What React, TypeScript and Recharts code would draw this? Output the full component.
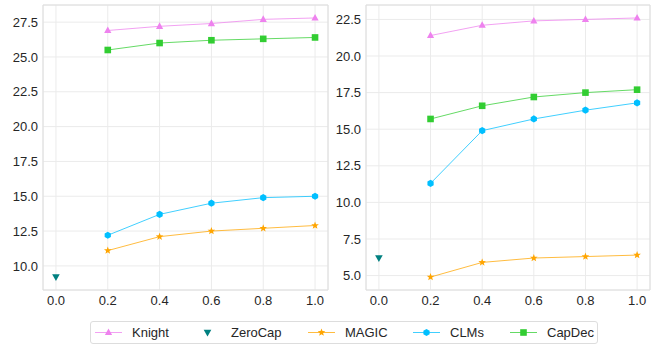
import React from 'react';
import { LineChart, Line, XAxis, YAxis, CartesianGrid, ReferenceArea } from 'recharts';

const ratios = [0.2, 0.4, 0.6, 0.8, 1.0];
const xTicks = [0, 0.2, 0.4, 0.6, 0.8, 1.0];

// left panel
const knightL = [26.9, 27.2, 27.4, 27.7, 27.8];
const capdecL = [25.5, 26.0, 26.2, 26.3, 26.4];
const clmsL = [12.2, 13.7, 14.5, 14.9, 15.0];
const magicL = [11.1, 12.1, 12.5, 12.7, 12.9];
const zerocapL = 9.2;
const yTicksL = [10.0, 12.5, 15.0, 17.5, 20.0, 22.5, 25.0, 27.5];

// right panel
const knightR = [21.4, 22.1, 22.4, 22.5, 22.6];
const capdecR = [15.7, 16.6, 17.2, 17.5, 17.7];
const clmsR = [11.3, 14.9, 15.7, 16.3, 16.8];
const magicR = [4.9, 5.9, 6.2, 6.3, 6.4];
const zerocapR = 6.2;
const yTicksR = [5.0, 7.5, 10.0, 12.5, 15.0, 17.5, 20.0, 22.5];

const COLORS = {
    Knight: '#ee82ee',
    ZeroCap: '#008080',
    MAGIC: '#ffa500',
    CLMs: '#00bfff',
    CapDec: '#32cd32',
};

const FONT = '"Liberation Sans", Arial, sans-serif';

const toRows = (vals: number[]) => ratios.map((r, i) => ({ x: r, y: vals[i] }));

// markers
const Marker = ({ kind, cx, cy, color }: { kind: string; cx: number; cy: number; color: string }) => {
    if (cx == null || cy == null) return null;
    switch (kind) {
        case 'tri-up':
            return <polygon points={`${cx},${cy - 4} ${cx - 3.6},${cy + 2.6} ${cx + 3.6},${cy + 2.6}`} fill={color} />;
        case 'tri-down':
            return <polygon points={`${cx},${cy + 4} ${cx - 3.8},${cy - 2.8} ${cx + 3.8},${cy - 2.8}`} fill={color} />;
        case 'star': {
            const pts: string[] = [];
            for (let i = 0; i < 10; i++) {
                const r = i % 2 === 0 ? 4 : 1.7;
                const a = (Math.PI / 5) * i - Math.PI / 2;
                pts.push(`${cx + r * Math.cos(a)},${cy + r * Math.sin(a)}`);
            }
            return <polygon points={pts.join(' ')} fill={color} />;
        }
        case 'hex': {
            const pts: string[] = [];
            for (let i = 0; i < 6; i++) {
                const a = (Math.PI / 3) * i - Math.PI / 2;
                pts.push(`${cx + 3.6 * Math.cos(a)},${cy + 3.6 * Math.sin(a)}`);
            }
            return <polygon points={pts.join(' ')} fill={color} />;
        }
        default:
            return <rect x={cx - 3.3} y={cy - 3.3} width={6.6} height={6.6} fill={color} />;
    }
};

const dotFor = (kind: string, color: string) => (props: any) => (
    <Marker key={`${kind}-${props.index}`} kind={kind} cx={props.cx} cy={props.cy} color={color} />
);

const tickStyle = { fill: '#262626', fontSize: 13, fontFamily: FONT };

interface PanelProps {
    knight: number[];
    capdec: number[];
    clms: number[];
    magic: number[];
    zerocap: number;
    yTicks: number[];
    yDomain: [number, number];
    yWidth: number;
    rightMargin: number;
}

const Panel: React.FC<PanelProps> = ({ knight, capdec, clms, magic, zerocap, yTicks, yDomain, yWidth, rightMargin }) => {
    const series = [
        { name: 'Knight', data: toRows(knight), kind: 'tri-up' },
        { name: 'MAGIC', data: toRows(magic), kind: 'star' },
        { name: 'CLMs', data: toRows(clms), kind: 'hex' },
        { name: 'CapDec', data: toRows(capdec), kind: 'square' },
    ];
    return (
        <LineChart width={330} height={310} margin={{ top: 5, right: rightMargin, left: 0, bottom: 0 }}>
            <CartesianGrid stroke="#ebebeb" strokeWidth={1} />
            <ReferenceArea x1={-0.05} x2={1.05} y1={yDomain[0]} y2={yDomain[1]} fill="none" stroke="#dedede" strokeWidth={1} />
            <XAxis
                type="number"
                dataKey="x"
                domain={[-0.05, 1.05]}
                ticks={xTicks}
                tickFormatter={(v: number) => v.toFixed(1)}
                axisLine={false}
                tickLine={false}
                tickSize={4}
                tickMargin={2}
                tick={tickStyle}
                height={20}
                allowDuplicatedCategory={false}
            />
            <YAxis
                type="number"
                domain={yDomain}
                ticks={yTicks}
                tickFormatter={(v: number) => v.toFixed(1)}
                axisLine={false}
                tickLine={false}
                tickSize={3}
                tickMargin={2}
                tick={tickStyle}
                width={yWidth}
                allowDataOverflow
            />
            {series.map(s => (
                <Line
                    key={s.name}
                    data={s.data}
                    dataKey="y"
                    stroke={COLORS[s.name as keyof typeof COLORS]}
                    strokeOpacity={0.75}
                    strokeWidth={1}
                    dot={dotFor(s.kind, COLORS[s.name as keyof typeof COLORS])}
                    activeDot={false}
                    isAnimationActive={false}
                />
            ))}
            <Line
                data={[{ x: 0, y: zerocap }]}
                dataKey="y"
                stroke="none"
                dot={dotFor('tri-down', COLORS.ZeroCap)}
                activeDot={false}
                isAnimationActive={false}
            />
        </LineChart>
    );
};

const legendItems = [
    { name: 'Knight', kind: 'tri-up', line: true, start: 4 },
    { name: 'ZeroCap', kind: 'tri-down', line: false, start: 103 },
    { name: 'MAGIC', kind: 'star', line: true, start: 217 },
    { name: 'CLMs', kind: 'hex', line: true, start: 322 },
    { name: 'CapDec', kind: 'square', line: true, start: 419 },
];

const App: React.FC = () => {
    return (
        <div style={{ position: 'absolute', left: 0, top: 0, width: 657, height: 346, background: '#fff', fontFamily: FONT }}>
            <div style={{ position: 'absolute', left: 0, top: 0 }}>
                <Panel knight={knightL} capdec={capdecL} clms={clmsL} magic={magicL} zerocap={zerocapL}
                    yTicks={yTicksL} yDomain={[8.27, 28.73]} yWidth={43} rightMargin={2} />
            </div>
            <div style={{ position: 'absolute', left: 327, top: 0 }}>
                <Panel knight={knightR} capdec={capdecR} clms={clmsR} magic={magicR} zerocap={zerocapR}
                    yTicks={yTicksR} yDomain={[4.015, 23.485]} yWidth={39} rightMargin={7} />
            </div>
            {/* legend */}
            <div style={{
                position: 'absolute', left: 90, top: 321, width: 506, height: 21,
                border: '1px solid #dddddd', borderRadius: 3, boxSizing: 'content-box',
            }}>
                <svg width={506} height={21} style={{ display: 'block' }}>
                    {legendItems.map(it => {
                        const x0 = it.start;
                        const color = COLORS[it.name as keyof typeof COLORS];
                        return (
                            <g key={it.name}>
                                {it.line && <line x1={x0} x2={x0 + 27} y1={10.5} y2={10.5} stroke={color} strokeOpacity={0.75} strokeWidth={1} />}
                                <Marker kind={it.kind} cx={x0 + 13.5} cy={10.5} color={color} />
                                <text x={x0 + 37} y={15} fontSize={13} fill="#262626" fontFamily={FONT}>{it.name}</text>
                            </g>
                        );
                    })}
                </svg>
            </div>
        </div>
    );
};

export default App;
